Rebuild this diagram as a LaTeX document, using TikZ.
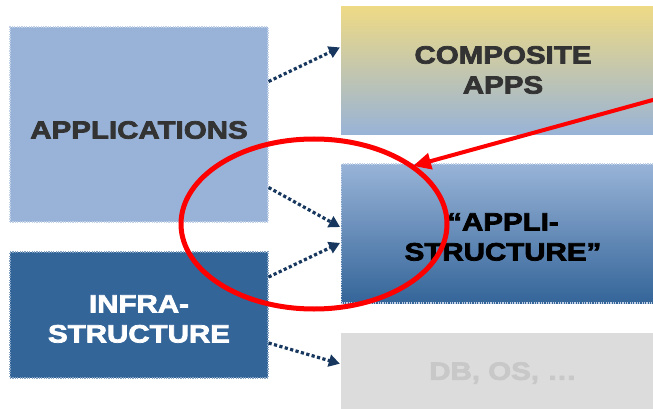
\documentclass[tikz,border=0pt]{standalone}
\usepackage{fontspec}
\setmainfont{Liberation Sans}
\newfontfamily\boxfont{Liberation Sans Bold}[FakeStretch=1.18, FakeBold=3]
\usetikzlibrary{arrows.meta,shapes.geometric}
\definecolor{appblue}{RGB}{152,179,215}
\definecolor{infrablue}{RGB}{52,101,153}
\definecolor{sand}{RGB}{238,218,134}
\definecolor{navy}{RGB}{23,55,94}
\definecolor{darktext}{RGB}{51,51,51}
\definecolor{dbgray}{RGB}{220,220,220}
\definecolor{dbtext}{RGB}{200,200,200}
\definecolor{redmark}{RGB}{255,0,0}
\tikzset{
  blk/.style={inner sep=0pt},
  lbl/.style={inner sep=0pt, align=center, font=\boxfont\fontsize{25}{30}\selectfont},
  flow/.style={navy, line width=3.2pt, dash pattern=on 3.2pt off 2.4pt, -{Triangle[length=11pt,width=12pt]}, shorten >=1pt},
  dotedge/.style={draw=#1, line width=1.2pt, dash pattern=on 1.2pt off 1.2pt}
}
\begin{document}
\begin{tikzpicture}[x=1pt,y=-1pt]
\useasboundingbox (0,0) rectangle (653,409);
\node[blk, fill=appblue, dotedge=appblue!60!white, minimum width=258pt, minimum height=195pt] (apps) at (139,124.5) {};
\node[lbl, text=darktext] (appst) at (139,130) {APPLICATIONS};
\node[blk, fill=infrablue, dotedge=infrablue!60!white, minimum width=258pt, minimum height=126pt] (infra) at (139,315) {};
\node[lbl, text=white] (infrat) at (139,319) {INFRA-\\STRUCTURE};
\node[blk, top color=sand, bottom color=appblue, minimum width=324pt, minimum height=128pt] (comp) at (503,71) {};
\node[lbl, text=darktext] (compt) at (503,70) {COMPOSITE\\APPS};
\node[blk, top color=appblue, bottom color=infrablue, dotedge=appblue!60!white, minimum width=324pt, minimum height=139pt] (appli) at (503.5,233.5) {};
\node[lbl, text=black] (applit) at (503,237) {“APPLI-\\STRUCTURE”};
\node[blk, fill=dbgray, minimum width=324pt, minimum height=78pt] (db) at (503,372) {};
\node[lbl, text=dbtext] (dbt) at (503,373) {DB, OS, …};
\draw[flow] ([yshift=43pt]apps.east) -- ([yshift=24pt]comp.west);
\draw[flow] ([yshift=-63pt]apps.east) -- ([yshift=6pt]appli.west);
\draw[flow] ([yshift=38pt]infra.east) -- ([yshift=-9pt]appli.west);
\draw[flow] ([yshift=-28pt]infra.east) -- ([yshift=8pt]db.west);
\node[draw=redmark, line width=5pt, ellipse, minimum width=266pt, minimum height=170pt, inner sep=0pt] (ring) at (314,224) {};
\coordinate (redstart) at (660,98);
\draw[redmark, line width=4pt, -{Triangle[length=18pt,width=16pt]}] (redstart) -- (413,166);
\end{tikzpicture}
\end{document}
